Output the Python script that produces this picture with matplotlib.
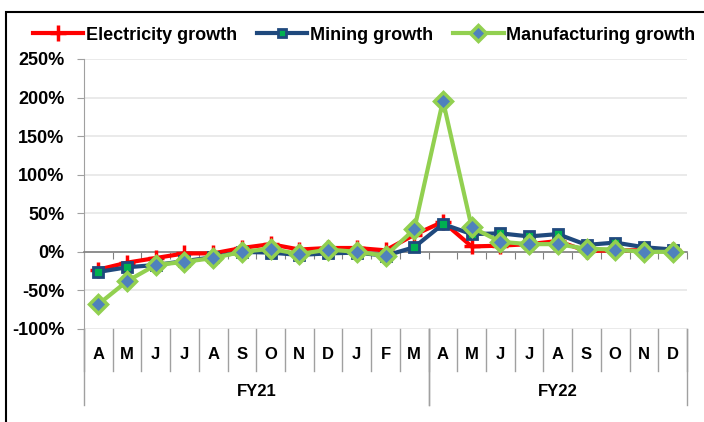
import numpy as np
import matplotlib.pyplot as plt
from matplotlib.patches import Rectangle
from matplotlib.lines import Line2D

plt.rcParams['font.family'] = ['Liberation Sans', 'DejaVu Sans']

# Months and fiscal years
months = ['A', 'M', 'J', 'J', 'A', 'S', 'O', 'N', 'D', 'J', 'F', 'M',
          'A', 'M', 'J', 'J', 'A', 'S', 'O', 'N', 'D']
years = ['FY21', 'FY22']
year_len = [12, 9]

# growth in %
electricity = [-23, -14, -8, -2, -2, 5, 10, 3, 5, 5, 2, 22,
               39, 7, 8, 10, 14, 1, 2, 2, 3]
mining = [-26, -20, -17, -12, -7, 0, -1, -4, -2, -1, -5, 6,
          36, 23, 24, 20, 23, 9, 12, 6, 3]
manufacturing = [-68, -38, -17, -13, -8, 0, 4, -3, 3, 0, -5, 29,
                 196, 32, 13, 10, 10, 4, 3, 0, 0]

red = '#FF0000'
navy = '#1F497D'
green = '#92D050'
lblue = '#4F81BD'

fig = plt.figure(figsize=(7.04, 4.22), dpi=100)
ax = fig.add_axes([0.1193, 0.2204, 0.8566, 0.6398])

x = np.arange(len(months))
ax.plot(x, electricity, color=red, lw=3, marker='+', ms=11, mew=2.5,
        mec=red, zorder=3)
ax.plot(x, mining, color=navy, lw=3, marker='s', ms=7, mew=2,
        mec=navy, mfc='#00B050', zorder=4)
ax.plot(x, manufacturing, color=green, lw=3, marker='D', ms=9, mew=2.5,
        mec=green, mfc=lblue, zorder=5)

ax.set_xlim(-0.5, len(months) - 0.5)
ax.set_ylim(-100, 250)
ax.set_yticks(np.arange(-100, 251, 50))
ax.set_yticklabels(['%d%%' % v for v in range(-100, 251, 50)],
                   fontsize=13, fontweight='bold')
ax.yaxis.grid(True, color='#E6E6E6', lw=1.2)
ax.set_axisbelow(True)

for s in ['top', 'right']:
    ax.spines[s].set_visible(False)
ax.spines['left'].set_color('#A0A0A0')
ax.spines['bottom'].set_position(('data', 0))
ax.spines['bottom'].set_color('#808080')
ax.spines['bottom'].set_linewidth(1.2)
ax.tick_params(axis='y', length=5, color='#A0A0A0', pad=9)
ax.set_xticks(np.arange(-0.5, len(months), 1))
ax.set_xticklabels([])
ax.tick_params(axis='x', direction='out', length=5, color='#808080')

# multi-level category labels below the plot
trans = ax.get_xaxis_transform()
for i, m in enumerate(months):
    ax.text(i, -0.095, m, transform=trans, ha='center', va='center',
            fontsize=12, fontweight='bold')
for b in range(len(months) + 1):
    ax.add_line(Line2D([b - 0.5, b - 0.5], [0, -0.155], transform=trans,
                       color='#A0A0A0', lw=1, clip_on=False))
start = 0
for yr, n in zip(years, year_len):
    ax.text(start + n / 2 - 0.5, -0.23, yr, transform=trans, ha='center',
            va='center', fontsize=12, fontweight='bold')
    for b in (start, start + n):
        ax.add_line(Line2D([b - 0.5, b - 0.5], [0, -0.28], transform=trans,
                           color='#A0A0A0', lw=1, clip_on=False))
    start += n

handles = [
    Line2D([], [], color=red, lw=3, marker='+', ms=11, mew=2.5),
    Line2D([], [], color=navy, lw=3, marker='s', ms=6, mew=2, mfc='#00B050'),
    Line2D([], [], color=green, lw=3, marker='D', ms=8, mew=2.5, mfc=lblue),
]
fig.legend(handles, ['Electricity growth', 'Mining growth', 'Manufacturing growth'],
           loc='center', bbox_to_anchor=(0.517, 0.917), ncol=3, frameon=False,
           prop={'size': 13, 'weight': 'bold'}, handlelength=2.8,
           handletextpad=0.15, columnspacing=1.1, borderpad=0, borderaxespad=0)

fig.add_artist(Rectangle((0.008, -0.1), 1.2, 0.1 + 0.972, transform=fig.transFigure,
                         fill=False, ec='black', lw=1.5))

fig.savefig('out.png', dpi=100)
